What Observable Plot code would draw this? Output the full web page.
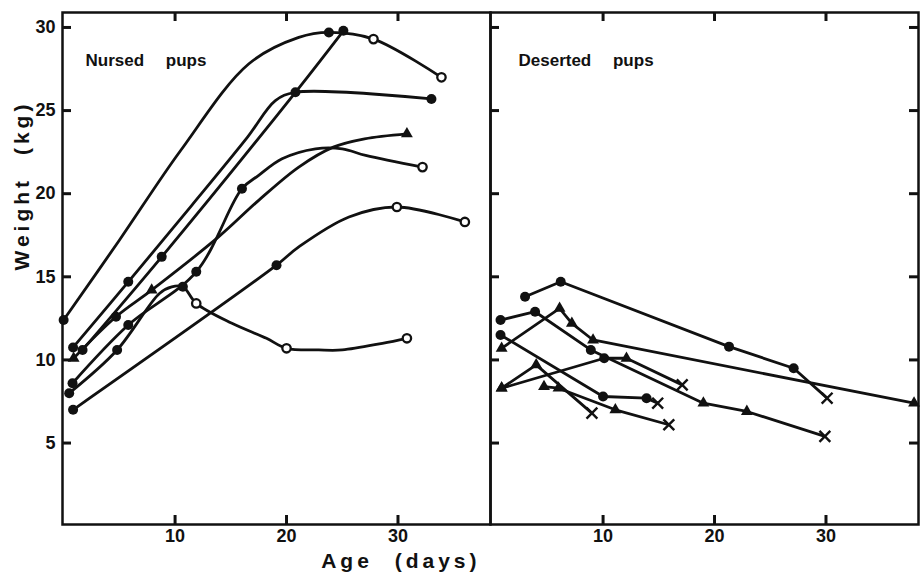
<!DOCTYPE html>
<html>
<head>
<meta charset="utf-8">
<script src="https://cdn.jsdelivr.net/npm/d3@7"></script>
<script src="https://cdn.jsdelivr.net/npm/@observablehq/plot@0.6"></script>
<style>
  body { margin: 0; background: #fff; }
  #chart svg text { font-family: "Liberation Sans", Arial, sans-serif; font-weight: bold; }
  g[aria-description="panel title"] text { word-spacing: 17px; }
  g[aria-description="axis title"] text { letter-spacing: 4px; word-spacing: 12px; }
</style>
</head>
<body>
<div id="chart"></div>
<script>
// Panels, axis ticks
const panels = ["Nursed pups", "Deserted pups"];
const yTicks = [5, 10, 15, 20, 25, 30];
const xTicks = [10, 20, 30];

// One list per pup: [age (days), weight (kg), symbol]; "-" = point on the drawn curve, no symbol
const nursed1 = [[0, 12.4, "dot"], [5.0, 17.2, "-"], [10.5, 22.6, "-"], [16.6, 27.8, "-"], [21.1, 29.4, "-"], [23.8, 29.7, "dot"], [27.8, 29.3, "open"], [33.9, 27.0, "open"]];
const nursed2 = [[0.85, 10.75, "dot"], [5.8, 14.7, "dot"], [11.5, 19.3, "-"], [16.5, 23.4, "-"], [19.0, 25.6, "-"], [20.8, 26.1, "-"], [33.0, 25.7, "dot"]];
const nursed3 = [[1.7, 10.6, "dot"], [8.8, 16.2, "dot"], [20.8, 26.1, "dot"], [25.1, 29.8, "dot"]];
const nursed4 = [[0.9, 10.1, "triangle"], [4.7, 12.6, "dot"], [7.9, 14.2, "triangle"], [13.9, 17.4, "-"], [17.5, 19.6, "-"], [21.1, 21.6, "-"], [24.2, 22.8, "-"], [27.0, 23.3, "-"], [30.8, 23.6, "triangle"]];
const nursed5 = [[0.8, 8.6, "dot"], [5.8, 12.1, "dot"], [11.9, 15.3, "dot"], [16.0, 20.3, "dot"], [17.5, 21.1, "-"], [19.6, 22.1, "-"], [22.6, 22.7, "-"], [25.0, 22.7, "-"], [27.1, 22.3, "-"], [32.2, 21.6, "open"]];
const nursed6 = [[0.5, 8.0, "dot"], [4.8, 10.6, "dot"], [8.6, 14.0, "-"], [9.7, 14.4, "-"], [10.7, 14.4, "dot"], [11.9, 13.4, "open"], [15.1, 12.2, "-"], [18.2, 11.3, "-"], [20.0, 10.7, "open"], [22.9, 10.6, "-"], [25.0, 10.6, "-"], [28.6, 11.0, "-"], [30.8, 11.3, "open"]];
const nursed7 = [[0.85, 7.0, "dot"], [19.1, 15.7, "dot"], [21.1, 16.8, "-"], [25.6, 18.6, "-"], [29.9, 19.2, "open"], [36.0, 18.3, "open"]];

const deserted1 = [[3.0, 13.8, "dot"], [6.2, 14.7, "dot"], [21.3, 10.8, "dot"], [27.1, 9.5, "dot"], [30.1, 7.7, "times"]];
const deserted2 = [[0.8, 12.4, "dot"], [3.9, 12.9, "dot"], [8.9, 10.6, "dot"], [19.0, 7.4, "triangle"], [22.9, 6.9, "triangle"], [29.9, 5.4, "times"]];
const deserted3 = [[0.9, 10.7, "triangle"], [6.1, 13.1, "triangle"], [7.2, 12.2, "triangle"], [9.1, 11.2, "triangle"], [37.9, 7.4, "triangle"]];
const deserted4 = [[0.9, 8.3, "triangle"], [10.1, 10.1, "dot"], [12.1, 10.1, "triangle"], [17.1, 8.5, "times"]];
const deserted5 = [[0.8, 11.5, "dot"], [10.0, 7.8, "dot"], [13.9, 7.7, "dot"], [14.9, 7.4, "times"]];
const deserted6 = [[0.9, 8.3, "triangle"], [4.0, 9.7, "triangle"], [9.0, 6.8, "times"]];
const deserted7 = [[4.7, 8.4, "triangle"], [6.0, 8.3, "triangle"], [11.1, 7.0, "triangle"], [15.9, 6.1, "times"]];

const nursedSeries = [nursed1, nursed2, nursed3, nursed4, nursed5, nursed6, nursed7];
const desertedSeries = [deserted1, deserted2, deserted3, deserted4, deserted5, deserted6, deserted7];

// Flatten into tidy rows for Plot
function rows(series, panel) {
  return series.flatMap((pts, i) =>
    pts.map(([day, kg, mark]) => ({panel, pup: `${panel} ${i + 1}`, day, kg, mark})));
}
const nursedRows = rows(nursedSeries, panels[0]);
const desertedRows = rows(desertedSeries, panels[1]);
const allRows = nursedRows.concat(desertedRows);
const withMark = (m) => allRows.filter((d) => d.mark === m);

const ink = "#111";

// Layout and scale extents
const width = 920, height = 583;
const margin = {left: 62, right: 2, top: 12, bottom: 59};
const xDomain = [-0.1, 38.3];
const yDomain = [0.1, 30.9];
const panelWidth = (width - margin.left - margin.right) / panels.length;
const panelHeight = height - margin.top - margin.bottom;

// Inward tick length in pixels, expressed in each scale's units
const tickPx = 9;
const tickDays = tickPx * (xDomain[1] - xDomain[0]) / panelWidth;
const tickKg = tickPx * (yDomain[1] - yDomain[0]) / panelHeight;
const tickStyle = {stroke: ink, strokeWidth: 3};

// Tick rows, one set per panel
const yTickRows = panels.flatMap((panel) => yTicks.map((value) => ({panel, value})));
const xTickRows = panels.flatMap((panel) => xTicks.map((value) => ({panel, value})));
const rightTickRows = yTickRows.filter((d) => d.panel === panels[1]);

// Axis titles hang off the left panel so they can span the whole figure
const titleRows = [{panel: panels[0], text: "Age (days)"}];
const weightRows = [{panel: panels[0], text: "Weight (kg)"}];

const chart = Plot.plot({
  width,
  height,
  marginLeft: margin.left,
  marginRight: margin.right,
  marginTop: margin.top,
  marginBottom: margin.bottom,
  fx: {domain: panels, padding: 0, axis: null},
  x: {domain: xDomain},
  y: {domain: yDomain},
  marks: [
    Plot.frame({stroke: ink, strokeWidth: 2.5}),
    // tick labels
    Plot.axisY(yTicks, {anchor: "left", tickSize: 0, tickPadding: 7, fontSize: 18, fill: ink, label: null}),
    Plot.axisX(xTicks, {anchor: "bottom", tickSize: 0, tickPadding: 5, fontSize: 18, fill: ink, label: null}),

    // growth curves
    Plot.line(nursedRows, {x: "day", y: "kg", z: "pup", fx: "panel", curve: "catmull-rom", stroke: ink, strokeWidth: 2.8, strokeLinejoin: "round"}),
    Plot.line(desertedRows, {x: "day", y: "kg", z: "pup", fx: "panel", curve: "linear", stroke: ink, strokeWidth: 2.8, strokeLinejoin: "round"}),

    // symbols
    Plot.dot(withMark("dot"), {x: "day", y: "kg", fx: "panel", r: 5, fill: ink}),
    Plot.dot(withMark("open"), {x: "day", y: "kg", fx: "panel", r: 4.2, fill: "#fff", stroke: ink, strokeWidth: 2.3}),
    Plot.dot(withMark("triangle"), {x: "day", y: "kg", fx: "panel", symbol: "triangle", r: 4.4, fill: ink}),
    Plot.dot(withMark("times"), {x: "day", y: "kg", fx: "panel", symbol: "times", r: 5, stroke: ink, strokeWidth: 2.4}),

    // panel titles
    Plot.text([panels[0]], {fx: (d) => d, text: (d) => d, frameAnchor: "top-left", textAnchor: "start", dx: 23, dy: 41, fontSize: 17, fill: ink, ariaDescription: "panel title"}),
    Plot.text([panels[1]], {fx: (d) => d, text: (d) => d, frameAnchor: "top-left", textAnchor: "start", dx: 28, dy: 41, fontSize: 17, fill: ink, ariaDescription: "panel title"}),

    // axis titles
    Plot.text(titleRows, {fx: "panel", text: "text", frameAnchor: "bottom-right", dx: -10, dy: 43, fontSize: 21, fill: ink, ariaDescription: "axis title"}),
    Plot.text(weightRows, {fx: "panel", text: "text", frameAnchor: "left", rotate: -90, dx: -40, dy: 2, fontSize: 21, fill: ink, ariaDescription: "axis title"}),

    // inward ticks: left edge of each panel, right edge of the outer panel, top and bottom
    Plot.ruleY(yTickRows, {fx: "panel", y: "value", x1: xDomain[0], x2: xDomain[0] + tickDays, ...tickStyle}),
    Plot.ruleY(rightTickRows, {fx: "panel", y: "value", x1: xDomain[1] - tickDays, x2: xDomain[1], ...tickStyle}),
    Plot.ruleX(xTickRows, {fx: "panel", x: "value", y1: yDomain[0], y2: yDomain[0] + tickKg, ...tickStyle}),
    Plot.ruleX(xTickRows, {fx: "panel", x: "value", y1: yDomain[1] - tickKg, y2: yDomain[1], ...tickStyle})
  ]
});

document.getElementById("chart").append(chart);
</script>
</body>
</html>
